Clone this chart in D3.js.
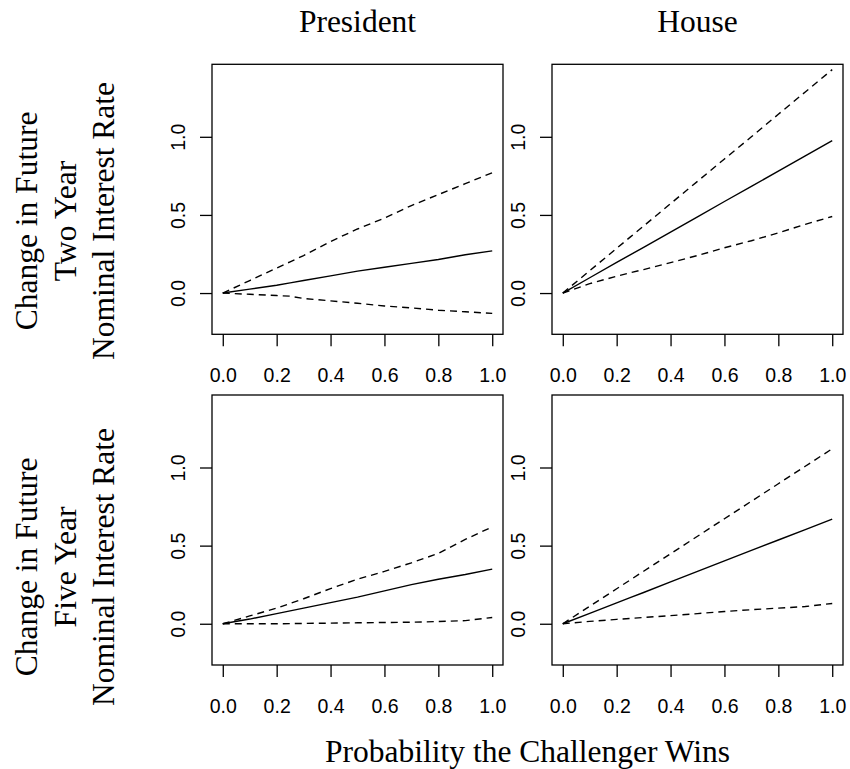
<!DOCTYPE html>
<html>
<head>
<meta charset="utf-8">
<script src="https://cdn.jsdelivr.net/npm/d3@7"></script>
<style>
  body { margin: 0; background: #fff; }
  svg { display: block; }
</style>
</head>
<body>
<svg id="chart" width="850" height="769"></svg>
<script>
// Probabilidade de vitória do desafiante (eixo x)
const probs = [0, 0.1, 0.2, 0.25, 0.3, 0.4, 0.5, 0.6, 0.7, 0.8, 0.9, 1.0];

const colTitles = ["President", "House"];
const rowLabels = [
  ["Change in Future", "Two Year", "Nominal Interest Rate"],
  ["Change in Future", "Five Year", "Nominal Interest Rate"]
];
const xLabel = "Probability the Challenger Wins";

const xTicks = [0, 0.2, 0.4, 0.6, 0.8, 1.0];
const yTicks = [0, 0.5, 1.0];

// Two year, President
const pres2Mean = [0, 0.025, 0.05, 0.065, 0.08, 0.11, 0.14, 0.165, 0.19, 0.215, 0.245, 0.27];
const pres2Upper = [0, 0.08, 0.16, 0.2, 0.24, 0.33, 0.41, 0.48, 0.56, 0.63, 0.70, 0.77];
const pres2Lower = [0, -0.008, -0.016, -0.02, -0.035, -0.05, -0.065, -0.083, -0.095, -0.11, -0.12, -0.13];

// Two year, House
const house2Mean = [0, 0.098, 0.196, 0.244, 0.293, 0.39, 0.488, 0.586, 0.683, 0.78, 0.878, 0.976];
const house2Upper = [0, 0.143, 0.286, 0.358, 0.429, 0.572, 0.715, 0.858, 1.0, 1.144, 1.287, 1.43];
const house2Lower = [0, 0.06, 0.108, 0.13, 0.15, 0.195, 0.24, 0.29, 0.335, 0.385, 0.44, 0.49];

// Five year, President
const pres5Mean = [0, 0.03, 0.065, 0.082, 0.1, 0.135, 0.17, 0.21, 0.25, 0.285, 0.315, 0.35];
const pres5Upper = [0, 0.05, 0.1, 0.13, 0.16, 0.225, 0.285, 0.335, 0.39, 0.45, 0.54, 0.62];
const pres5Lower = [0, 0, 0, 0.001, 0.002, 0.004, 0.006, 0.008, 0.01, 0.014, 0.02, 0.04];

// Five year, House
const house5Mean = [0, 0.067, 0.134, 0.167, 0.2, 0.268, 0.335, 0.402, 0.469, 0.536, 0.603, 0.67];
const house5Upper = [0, 0.112, 0.224, 0.28, 0.336, 0.448, 0.56, 0.672, 0.784, 0.896, 1.008, 1.12];
const house5Lower = [0, 0.015, 0.028, 0.034, 0.04, 0.052, 0.065, 0.078, 0.09, 0.1, 0.11, 0.13];

const panels = [
  { row: 0, col: 0, mean: pres2Mean, upper: pres2Upper, lower: pres2Lower },
  { row: 0, col: 1, mean: house2Mean, upper: house2Upper, lower: house2Lower },
  { row: 1, col: 0, mean: pres5Mean, upper: pres5Upper, lower: pres5Lower },
  { row: 1, col: 1, mean: house5Mean, upper: house5Upper, lower: house5Lower }
];

// Geometria dos painéis
const PANEL_W = 291;
const PANEL_H = 270;
const colLeft = [212, 552];
const rowTop = [64.3, 395];
const rowLabelCenter = [221, 567];

const SERIF = "'Liberation Serif', 'Times New Roman', serif";
const SANS = "'Liberation Sans', Arial, Helvetica, sans-serif";
const TICK_FONT = 19.5;

const svg = d3.select("#chart");

const x = d3.scaleLinear().domain([-0.04, 1.04]).range([0, PANEL_W]);
const y = d3.scaleLinear().domain([-0.264, 1.464]).range([PANEL_H, 0]);

const line = d3.line()
  .x((d) => x(d[0]))
  .y((d) => y(d[1]));

panels.forEach((p) => {
  const g = svg.append("g")
    .attr("transform", `translate(${colLeft[p.col]},${rowTop[p.row]})`);

  // caixa do gráfico
  g.append("rect")
    .attr("width", PANEL_W)
    .attr("height", PANEL_H)
    .attr("fill", "none")
    .attr("stroke", "#000")
    .attr("stroke-width", 1.3);

  // eixo x
  const xAxis = g.append("g")
    .attr("transform", `translate(0,${PANEL_H})`)
    .call(d3.axisBottom(x).tickValues(xTicks).tickFormat(d3.format(".1f"))
      .tickSize(12).tickSizeOuter(0).tickPadding(22));
  xAxis.select(".domain").attr("stroke", "none");
  xAxis.selectAll(".tick line").attr("stroke-width", 1.3);
  xAxis.selectAll(".tick text")
    .attr("font-family", SANS)
    .attr("font-size", TICK_FONT)
    .attr("fill", "#000");

  // eixo y (rótulos girados, como no R)
  const yAxis = g.append("g")
    .call(d3.axisLeft(y).tickValues(yTicks).tickFormat(d3.format(".1f"))
      .tickSize(12).tickSizeOuter(0));
  yAxis.select(".domain").attr("stroke", "none");
  yAxis.selectAll(".tick line").attr("stroke-width", 1.3);
  yAxis.selectAll(".tick text")
    .attr("font-family", SANS)
    .attr("font-size", TICK_FONT)
    .attr("fill", "#000")
    .attr("text-anchor", "middle")
    .attr("dy", null)
    .attr("x", null)
    .attr("transform", "translate(-27,0) rotate(-90)");

  const series = [
    { values: p.upper, dash: "7,5" },
    { values: p.lower, dash: "7,5" },
    { values: p.mean, dash: null }
  ];

  g.selectAll(".series")
    .data(series)
    .join("path")
    .attr("class", "series")
    .attr("d", (s) => line(probs.map((v, i) => [v, s.values[i]])))
    .attr("fill", "none")
    .attr("stroke", "#000")
    .attr("stroke-width", 1.4)
    .attr("stroke-dasharray", (s) => s.dash);
});

// títulos das colunas
svg.selectAll(".col-title")
  .data(colTitles)
  .join("text")
  .attr("class", "col-title")
  .attr("x", (d, i) => colLeft[i] + PANEL_W / 2)
  .attr("y", 32)
  .attr("text-anchor", "middle")
  .attr("font-family", SERIF)
  .attr("font-size", 31.5)
  .text((d) => d);

// rótulos das linhas (três linhas giradas)
const baselineX = [37, 75.5, 114];
rowLabels.forEach((lines, r) => {
  lines.forEach((txt, k) => {
    svg.append("text")
      .attr("transform", `translate(${baselineX[k]},${rowLabelCenter[r]}) rotate(-90)`)
      .attr("text-anchor", "middle")
      .attr("font-family", SERIF)
      .attr("font-size", 31.5)
      .text(txt);
  });
});

// título do eixo x
svg.append("text")
  .attr("x", (colLeft[0] + colLeft[1] + PANEL_W) / 2)
  .attr("y", 761.5)
  .attr("text-anchor", "middle")
  .attr("font-family", SERIF)
  .attr("font-size", 31.5)
  .text(xLabel);
</script>
</body>
</html>
